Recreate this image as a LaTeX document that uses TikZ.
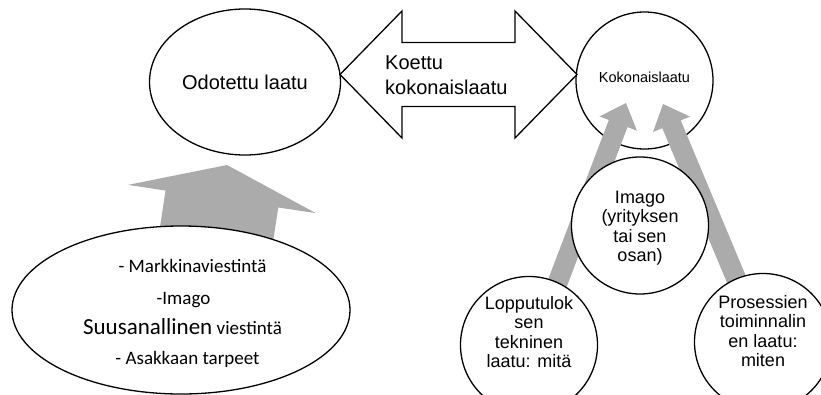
\documentclass[tikz,border=0pt]{standalone}
\usepackage{fontspec}
\setmainfont{Liberation Sans}
\newfontfamily\carlitofont{Carlito}
\usetikzlibrary{calc,shapes.geometric}
\definecolor{blockgray}{RGB}{171,171,171}
\pgfdeclarelayer{under}
\pgfdeclarelayer{arrowlayer}
\pgfsetlayers{under,arrowlayer,main}

% Filled block arrow: tail, tip, shaft half-width, head half-width, head length
\newcommand\blockarrow[5]{%
  \coordinate (ba-base) at ($(#2)!#5!(#1)$);
  \fill[blockgray]
    ($(#1)!#3!90:(#2)$) -- ($(ba-base)!#3!90:(#2)$) -- ($(ba-base)!#4!90:(#2)$)
    -- (#2)
    -- ($(ba-base)!#4!-90:(#2)$) -- ($(ba-base)!#3!-90:(#2)$) -- ($(#1)!#3!-90:(#2)$)
    -- cycle;
}

\begin{document}
\begin{tikzpicture}[x=1pt,y=-1pt,
  outline/.style={draw=black, fill=white, line width=1.3pt},
  bubble/.style={outline, circle, minimum size=137pt, inner sep=0pt},
  oval/.style={outline, ellipse, inner sep=0pt},
  txt/.style={inner sep=0pt, font=\fontsize{18}{19.5}\selectfont, align=center},
  srcline/.style={inner sep=0pt, anchor=base, font=\carlitofont\fontsize{19}{22}\selectfont},
  ]
\useasboundingbox (0,0) rectangle (821,394);

\begin{pgfonlayer}{under}
  \fill[white] (0,0) rectangle (821,394);
  \node[bubble] (koko) at (644.5,80.5) {};
\end{pgfonlayer}

% expected quality and the perceived-quality double arrow
\node[oval, minimum width=191pt, minimum height=146pt,
      font=\fontsize{20}{24}\selectfont] (odot) at (245,82) {Odotettu laatu};
\coordinate (dl) at (340,74.5);
\coordinate (dr) at (577,74.5);
\draw[outline] (dl) -- (402,11) -- (402,42.5) -- (515,42.5) -- (515,11) -- (dr)
  -- (515,138) -- (515,106.5) -- (402,106.5) -- (402,138) -- cycle;
\node[anchor=west, inner sep=0pt, align=left, font=\fontsize{20}{25.3}\selectfont]
  (koettu) at (385,75.4) {Koettu\\kokonaislaatu};
\node[anchor=base, inner sep=0pt, font=\fontsize{14.5}{17}\selectfont]
  (koko-label) at (644.5,82.7) {Kokonaislaatu};

% the three quality dimensions
\node[bubble] (imago) at (640,225.5) {};
\node[txt] (imago-label) at (640,228.2) {Imago\\(yrityksen\\tai sen\\osan)};
\node[bubble] (lop) at (529,345) {};
\node[txt] (lop-label) at (529,332.2) {Lopputulok\\sen\\tekninen\\laatu: mitä};
\node[bubble] (pros) at (763,342) {};
\node[txt] (pros-label) at (763,331.3) {Prosessien\\toiminnalin\\en laatu:\\miten};

% sources of expectations
\node[oval, minimum width=338pt, minimum height=168pt] (sources) at (181,310) {};
\node[srcline] (src1) at (192.5,272) {- Markkinaviestintä};
\node[srcline] (src2) at (183.5,304) {-Imago};
\node[srcline] (src3) at (182.5,334) {{\fontsize{23}{26}\selectfont Suusanallinen} viestintä};
\node[srcline] (src4) at (187.5,364) {- Asakkaan tarpeet};

\begin{pgfonlayer}{arrowlayer}
  \coordinate (up-tail) at (213,258);
  \coordinate (up-tip) at (227,165);
  \blockarrow{up-tail}{up-tip}{57pt}{95pt}{34.4pt}
  \coordinate (tip-a) at ($(koko.center)+(-18.5,22.5)$);
  \coordinate (tail-a) at ($(lop.center)!0.9!(lop.65)$);
  \blockarrow{tail-a}{tip-a}{10pt}{20pt}{22pt}
  \coordinate (tip-b) at ($(koko.center)+(18.5,23.5)$);
  \coordinate (tail-b) at ($(pros.center)!0.9!(pros.113)$);
  \blockarrow{tail-b}{tip-b}{10pt}{20pt}{22pt}
\end{pgfonlayer}
\end{tikzpicture}
\end{document}
